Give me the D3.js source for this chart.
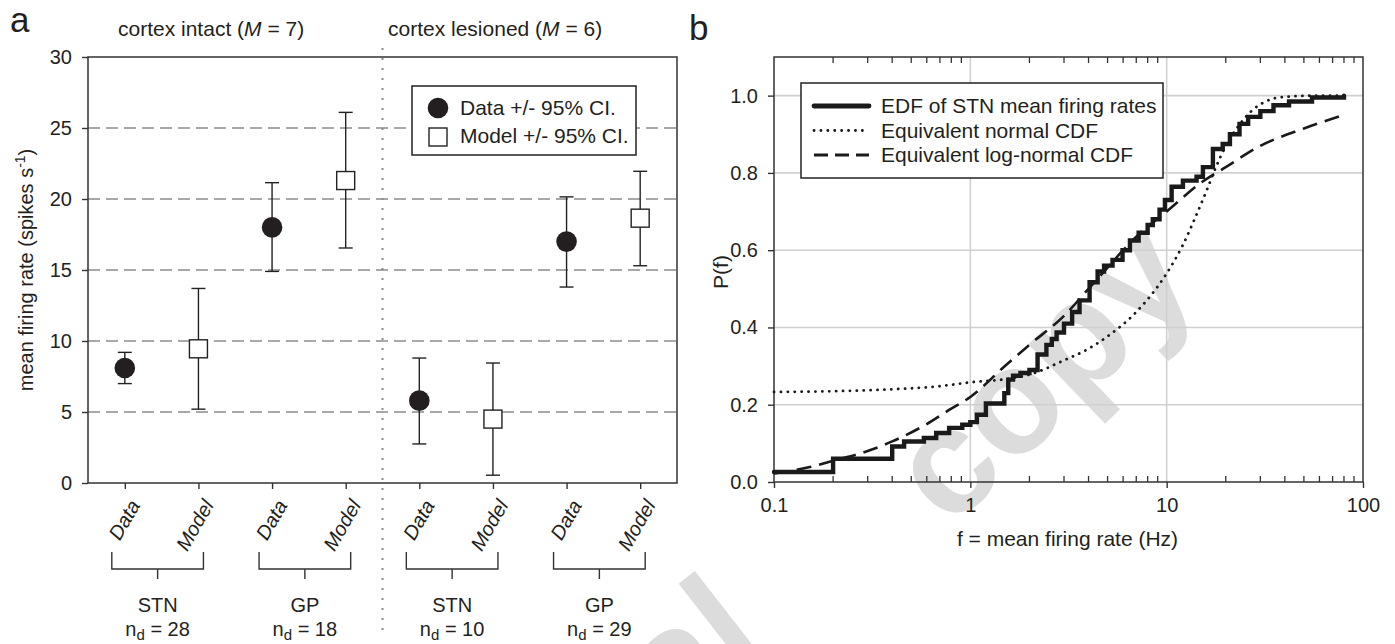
<!DOCTYPE html>
<html>
<head>
<meta charset="utf-8">
<script src="https://cdn.jsdelivr.net/npm/d3@7"></script>
<style>
body { margin: 0; background: #fff; }
svg text { font-family: "Liberation Sans", Arial, sans-serif; fill: #231f20; }
</style>
</head>
<body>
<div id="chart"></div>
<script>
const width = 1395
const height = 644

// ---- panel a data ----
const categories = ["iSTN-d", "iSTN-m", "iGP-d", "iGP-m", "lSTN-d", "lSTN-m", "lGP-d", "lGP-m"]
const catLabels = ["Data", "Model", "Data", "Model", "Data", "Model", "Data", "Model"]
const catKind = ["data", "model", "data", "model", "data", "model", "data", "model"]
const means = [8.1, 9.45, 18.0, 21.3, 5.8, 4.5, 17.0, 18.65]
const ciLow = [7.0, 5.2, 14.9, 16.55, 2.75, 0.55, 13.8, 15.3]
const ciHigh = [9.2, 13.7, 21.15, 26.1, 8.8, 8.45, 20.15, 21.95]
const groups = ["STN", "GP", "STN", "GP"]
const groupN = [28, 18, 10, 29]
const conditions = ["cortex intact", "cortex lesioned"]
const conditionM = [7, 6]
const yTicksA = [0, 5, 10, 15, 20, 25, 30]
const gridA = [5, 10, 15, 20, 25]

// ---- panel b data ----
const edfRate = [0.1, 0.2, 0.4, 0.46, 0.58, 0.67, 0.78, 0.91, 1.0, 1.08, 1.2, 1.49, 1.56, 1.65, 1.8, 2.0, 2.2, 2.44, 2.6, 2.75, 3.0, 3.3, 3.6, 4.05, 4.45, 4.8, 5.3, 5.96, 6.5, 7.2, 8.0, 8.5, 9.2, 9.8, 10.6, 12.1, 14.2, 15.3, 17.2, 19.3, 21, 23.5, 26, 30, 35, 42, 55, 80]
const edfProb = [0.026, 0.06, 0.092, 0.105, 0.114, 0.127, 0.14, 0.148, 0.155, 0.174, 0.203, 0.23, 0.265, 0.275, 0.282, 0.29, 0.33, 0.355, 0.37, 0.387, 0.41, 0.44, 0.47, 0.517, 0.545, 0.56, 0.575, 0.6, 0.625, 0.645, 0.665, 0.68, 0.705, 0.73, 0.764, 0.78, 0.79, 0.815, 0.862, 0.875, 0.9, 0.927, 0.945, 0.96, 0.975, 0.985, 0.995, 1.0]
const normRate = [0.1, 0.2, 0.4, 0.7, 1.0, 1.5, 2.0, 3.0, 4.0, 5.0, 7.0, 10, 12, 14, 16, 18, 20, 23.5, 27, 32, 40, 60, 80]
const normProb = [0.233, 0.235, 0.24, 0.248, 0.258, 0.266, 0.278, 0.315, 0.345, 0.377, 0.44, 0.54, 0.61, 0.685, 0.755, 0.82, 0.87, 0.925, 0.96, 0.985, 0.997, 1.0, 1.0]
const logRate = [0.1, 0.15, 0.2, 0.3, 0.4, 0.6, 0.8, 1.0, 1.5, 2.0, 3.0, 4.0, 5.0, 6.0, 7.0, 10, 15, 20, 30, 50, 80]
const logProb = [0.022, 0.038, 0.055, 0.08, 0.105, 0.15, 0.19, 0.22, 0.3, 0.355, 0.43, 0.5, 0.555, 0.6, 0.635, 0.7, 0.775, 0.815, 0.87, 0.915, 0.95]
const xTicksB = [0.1, 1, 10, 100]
const yTicksB = [0, 0.2, 0.4, 0.6, 0.8, 1.0]
const legendB = ["EDF of STN mean firing rates", "Equivalent normal CDF", "Equivalent log-normal CDF"]

const svg = d3.select("div#chart").append("svg").attr("width", width).attr("height", height)

// watermark behind everything
const wm = svg.append("g").attr("class", "watermark")
wm.append("text").attr("transform", "translate(950,530) rotate(-44)")
    .style("font-size", "150px").style("font-weight", "bold").style("fill", "#dcdcdc")
    .text("copy")
wm.append("text").attr("transform", "translate(770,650) rotate(-38)")
    .attr("text-anchor", "end")
    .style("font-size", "150px").style("font-weight", "bold").style("fill", "#dcdcdc")
    .text("al")

// ================= panel a =================
const A = { left: 88, right: 677, top: 57, bottom: 483 }
const xA = d3.scalePoint().domain(categories).range([A.left, A.right]).padding(0.5)
const yA = d3.scaleLinear().domain([0, 30]).range([A.bottom, A.top])

const pa = svg.append("g").attr("class", "panelA")

pa.selectAll("line.grid").data(gridA).enter().append("line")
    .attr("class", "grid")
    .attr("x1", A.left).attr("x2", A.right)
    .attr("y1", d => yA(d)).attr("y2", d => yA(d))
    .attr("stroke", "#8c8c8c").attr("stroke-width", 1.4).attr("stroke-dasharray", "12,6")

// separator between conditions
const sepX = (xA(categories[3]) + xA(categories[4])) / 2
pa.append("line")
    .attr("x1", sepX).attr("x2", sepX).attr("y1", 48).attr("y2", 632)
    .attr("stroke", "#8c8c8c").attr("stroke-width", 2).attr("stroke-dasharray", "2,8")

const yAxisA = pa.append("g").attr("transform", `translate(${A.left},0)`)
    .call(d3.axisLeft(yA).tickValues(yTicksA).tickSize(6).tickPadding(10))
yAxisA.select(".domain").remove()
yAxisA.selectAll("text").style("font-size", "20px").style("font-family", "Liberation Sans, Arial")
yAxisA.selectAll("line").attr("stroke", "#333").attr("stroke-width", 1.4)

const xAxisA = pa.append("g").attr("transform", `translate(0,${A.bottom})`)
    .call(d3.axisBottom(xA).tickSize(6).tickFormat(""))
xAxisA.select(".domain").remove()
xAxisA.selectAll("line").attr("stroke", "#333").attr("stroke-width", 1.4)

pa.append("rect")
    .attr("x", A.left).attr("y", A.top)
    .attr("width", A.right - A.left).attr("height", A.bottom - A.top)
    .attr("fill", "none").attr("stroke", "#333").attr("stroke-width", 1.5)

// error bars
const bars = pa.selectAll("g.bar").data(categories).enter().append("g").attr("class", "bar")
bars.append("line")
    .attr("x1", d => xA(d)).attr("x2", d => xA(d))
    .attr("y1", (d, i) => yA(ciLow[i])).attr("y2", (d, i) => yA(ciHigh[i]))
    .attr("stroke", "#222").attr("stroke-width", 1.4)
bars.append("line")
    .attr("x1", d => xA(d) - 7).attr("x2", d => xA(d) + 7)
    .attr("y1", (d, i) => yA(ciLow[i])).attr("y2", (d, i) => yA(ciLow[i]))
    .attr("stroke", "#222").attr("stroke-width", 1.4)
bars.append("line")
    .attr("x1", d => xA(d) - 7).attr("x2", d => xA(d) + 7)
    .attr("y1", (d, i) => yA(ciHigh[i])).attr("y2", (d, i) => yA(ciHigh[i]))
    .attr("stroke", "#222").attr("stroke-width", 1.4)
bars.filter((d, i) => catKind[i] === "data").append("circle")
    .attr("cx", d => xA(d)).attr("cy", d => yA(means[categories.indexOf(d)]))
    .attr("r", 10.3).attr("fill", "#231f20")
bars.filter((d, i) => catKind[i] === "model").append("rect")
    .attr("x", d => xA(d) - 9).attr("y", d => yA(means[categories.indexOf(d)]) - 9)
    .attr("width", 18).attr("height", 18)
    .attr("fill", "#fff").attr("stroke", "#222").attr("stroke-width", 1.4)

// rotated category labels
pa.selectAll("text.cat").data(categories).enter().append("text")
    .attr("class", "cat")
    .attr("transform", d => `translate(${xA(d) + 16},505) rotate(-60)`)
    .attr("text-anchor", "end")
    .style("font-size", "20px").style("font-style", "italic")
    .text((d, i) => catLabels[i])

// brackets and group labels
groups.forEach((g, gi) => {
    const x0 = xA(categories[gi * 2]) - 13
    const x1 = xA(categories[gi * 2 + 1]) + 5
    const xc = (x0 + x1) / 2
    pa.append("path")
        .attr("d", `M${x0},552V569H${x1}V552M${xc},569V579`)
        .attr("fill", "none").attr("stroke", "#333").attr("stroke-width", 1.4)
    pa.append("text").attr("x", xc).attr("y", 612).attr("text-anchor", "middle")
        .style("font-size", "20px").text(g)
    const t = pa.append("text").attr("x", xc).attr("y", 636).attr("text-anchor", "middle")
        .style("font-size", "20px")
    t.append("tspan").text("n")
    t.append("tspan").attr("dy", 4).style("font-size", "15px").text("d")
    t.append("tspan").attr("dy", -4).text(` = ${groupN[gi]}`)
})

// condition titles
const titleX = [118, 388]
conditions.forEach((c, ci) => {
    const t = pa.append("text").attr("x", titleX[ci]).attr("y", 36).style("font-size", "21px")
    t.append("tspan").text(`${c} (`)
    t.append("tspan").style("font-style", "italic").text("M")
    t.append("tspan").text(` = ${conditionM[ci]})`)
})

// y label
const ylA = pa.append("text").attr("transform", "translate(33,270) rotate(-90)")
    .attr("text-anchor", "middle").style("font-size", "20px")
ylA.append("tspan").text("mean firing rate (spikes s")
ylA.append("tspan").attr("dy", -8).style("font-size", "14px").text("-1")
ylA.append("tspan").attr("dy", 8).text(")")

// legend a
const legA = pa.append("g")
legA.append("rect").attr("x", 412).attr("y", 86).attr("width", 224).attr("height", 69)
    .attr("fill", "#fff").attr("stroke", "#222").attr("stroke-width", 1.5)
legA.append("circle").attr("cx", 438).attr("cy", 108).attr("r", 10.3).attr("fill", "#231f20")
legA.append("rect").attr("x", 429).attr("y", 128).attr("width", 18).attr("height", 18)
    .attr("fill", "#fff").attr("stroke", "#222").attr("stroke-width", 1.4)
legA.append("text").attr("x", 460).attr("y", 115).style("font-size", "21px").text("Data +/- 95% CI.")
legA.append("text").attr("x", 460).attr("y", 143).style("font-size", "21px").text("Model +/- 95% CI.")

svg.append("text").attr("x", 10).attr("y", 32).style("font-size", "35px").text("a")

// ================= panel b =================
const B = { left: 774, right: 1363, top: 57, bottom: 482 }
const xB = d3.scaleLog().domain([0.1, 100]).range([B.left, B.right])
const yB = d3.scaleLinear().domain([0, 1.1]).range([B.bottom, B.top])

const pb = svg.append("g").attr("class", "panelB")

pb.selectAll("line.vgrid").data([1, 10]).enter().append("line")
    .attr("x1", d => xB(d)).attr("x2", d => xB(d)).attr("y1", B.top).attr("y2", B.bottom)
    .attr("stroke", "#d0d0d0").attr("stroke-width", 1.6)
pb.selectAll("line.hgrid").data(yTicksB.slice(1)).enter().append("line")
    .attr("x1", B.left).attr("x2", B.right).attr("y1", d => yB(d)).attr("y2", d => yB(d))
    .attr("stroke", "#d0d0d0").attr("stroke-width", 1.6)

const minorB = []
;[0.1, 1, 10].forEach(dec => { for (let k = 2; k <= 9; k++) minorB.push(dec * k) })

pb.selectAll("line.minb").data(minorB).enter().append("line")
    .attr("x1", d => xB(d)).attr("x2", d => xB(d)).attr("y1", B.bottom).attr("y2", B.bottom - 6)
    .attr("stroke", "#333").attr("stroke-width", 1.3)
pb.selectAll("line.mint").data(minorB).enter().append("line")
    .attr("x1", d => xB(d)).attr("x2", d => xB(d)).attr("y1", B.top).attr("y2", B.top + 6)
    .attr("stroke", "#333").attr("stroke-width", 1.3)

const xAxisB = pb.append("g").attr("transform", `translate(0,${B.bottom})`)
    .call(d3.axisBottom(xB).tickValues(xTicksB).tickSize(6).tickPadding(10).tickFormat(d => String(d)))
xAxisB.select(".domain").remove()
xAxisB.selectAll("text").style("font-size", "20px").style("font-family", "Liberation Sans, Arial")
xAxisB.selectAll("line").attr("stroke", "#333").attr("stroke-width", 1.4)

const yAxisB = pb.append("g").attr("transform", `translate(${B.left},0)`)
    .call(d3.axisLeft(yB).tickValues(yTicksB).tickSize(6).tickPadding(10).tickFormat(d3.format(".1f")))
yAxisB.select(".domain").remove()
yAxisB.selectAll("text").style("font-size", "20px").style("font-family", "Liberation Sans, Arial")
yAxisB.selectAll("line").attr("stroke", "#333").attr("stroke-width", 1.4)

pb.append("rect")
    .attr("x", B.left).attr("y", B.top)
    .attr("width", B.right - B.left).attr("height", B.bottom - B.top)
    .attr("fill", "none").attr("stroke", "#333").attr("stroke-width", 1.5)

const lineB = d3.line().x(d => xB(d[0])).y(d => yB(d[1]))

pb.append("path")
    .datum(normRate.map((r, i) => [r, normProb[i]]))
    .attr("d", lineB.curve(d3.curveMonotoneX))
    .attr("fill", "none").attr("stroke", "#1a1a1a").attr("stroke-width", 2.8)
    .attr("stroke-linecap", "round").attr("stroke-dasharray", "0.1,6.8")
pb.append("path")
    .datum(logRate.map((r, i) => [r, logProb[i]]))
    .attr("d", lineB.curve(d3.curveMonotoneX))
    .attr("fill", "none").attr("stroke", "#1a1a1a").attr("stroke-width", 2.6)
    .attr("stroke-dasharray", "15,8")
pb.append("path")
    .datum(edfRate.map((r, i) => [r, edfProb[i]]))
    .attr("d", lineB.curve(d3.curveStepAfter))
    .attr("fill", "none").attr("stroke", "#1a1a1a").attr("stroke-width", 4.4)
    .attr("stroke-linecap", "round")

// legend b
const legB = pb.append("g")
legB.append("rect").attr("x", 801).attr("y", 83).attr("width", 362).attr("height", 95)
    .attr("fill", "#fff").attr("stroke", "#222").attr("stroke-width", 1.5)
const legStyles = [
    { w: 4.8, dash: null, cap: "round" },
    { w: 2.8, dash: "0.1,6.8", cap: "round" },
    { w: 2.8, dash: "14,7", cap: "butt" },
]
legendB.forEach((s, i) => {
    const y = 106 + i * 24.5
    const l = legB.append("line").attr("x1", 814).attr("x2", 869).attr("y1", y).attr("y2", y)
        .attr("stroke", "#1a1a1a").attr("stroke-width", legStyles[i].w)
        .attr("stroke-linecap", legStyles[i].cap)
    if (legStyles[i].dash) l.attr("stroke-dasharray", legStyles[i].dash)
    legB.append("text").attr("x", 881).attr("y", y + 7).style("font-size", "21px").text(s)
})

pb.append("text").attr("x", (B.left + B.right) / 2 - 1).attr("y", 546)
    .attr("text-anchor", "middle").style("font-size", "21px").text("f = mean firing rate (Hz)")
pb.append("text").attr("transform", "translate(728,272) rotate(-90)")
    .attr("text-anchor", "middle").style("font-size", "21px").text("P(f)")

svg.append("text").attr("x", 689).attr("y", 40).style("font-size", "35px").text("b")
</script>
</body>
</html>
